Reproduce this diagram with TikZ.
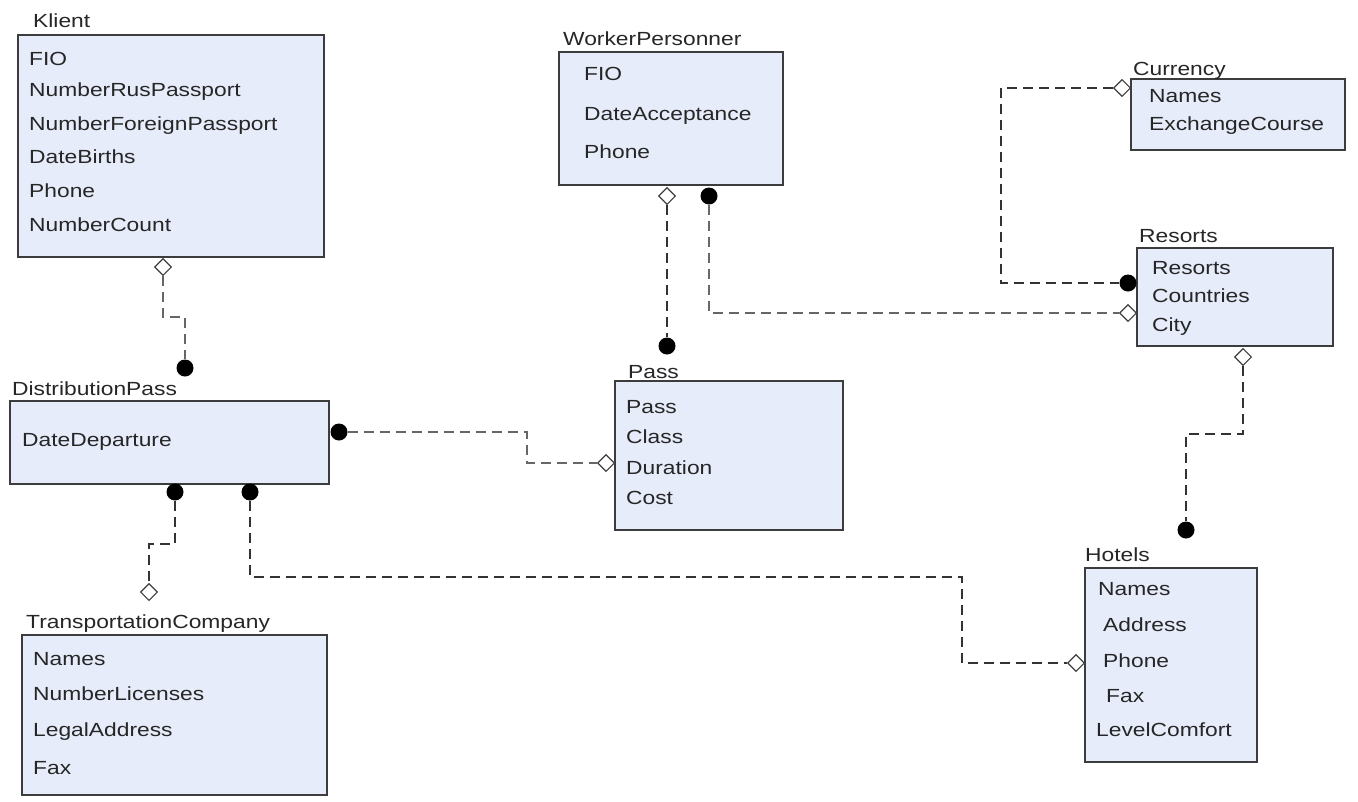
\documentclass[tikz,border=0pt]{standalone}
\usepackage{fontspec}
\setmainfont{Liberation Sans}[FakeStretch=1.2]
\usepackage{xcolor}
\usepackage{tikz}
\usetikzlibrary{positioning,shapes,shapes.geometric}
\definecolor{entfill}{HTML}{E6ECFA}
\definecolor{entline}{HTML}{3C3C3C}
\definecolor{linkgray}{HTML}{666666}
\tikzstyle{conn} = [linkgray, line width=2.2pt, dash pattern=on 10pt off 6pt]

\begin{document}
\begin{tikzpicture}[
    x=1pt, y=-1pt,
    font=\fontsize{19}{22}\selectfont,
    ent/.style={
        draw=entline,
        fill=entfill,
        line width=1.8pt,
        anchor=north west,
        inner sep=0,
        outer sep=0
    },
    ttl/.style={anchor=base west, inner sep=0, text=black!85},
    attr/.style={anchor=west, inner sep=0, text height=14pt,
                 text depth=4pt, text=black!85},
    dia/.style={diamond, draw=black!75, fill=white, line width=1.1pt,
                inner sep=0, minimum width=17pt, minimum height=17pt},
    dot/.style={circle, fill=black, inner sep=0, minimum size=17pt}
]
\useasboundingbox[fill=white] (0,0) rectangle (1358,801);

% entities
\node[ent, minimum width=306pt, minimum height=222pt] (klient) at (18,35) {};
\node[ttl] (klientT) at (33,27) {Klient};
\foreach \t/\x/\y [count=\i] in {FIO/29/60, NumberRusPassport/29/91,
    NumberForeignPassport/29/125, DateBirths/29/158, Phone/29/192,
    NumberCount/29/226}
    \node[attr] (kl-\i) at (\x,\y) {\t};

\node[ent, minimum width=224pt, minimum height=133pt] (worker) at (559,52) {};
\node[ttl] (workerT) at (563,45) {WorkerPersonner};
\foreach \t/\x/\y [count=\i] in {FIO/584/75, DateAcceptance/584/115,
    Phone/584/153}
    \node[attr] (wp-\i) at (\x,\y) {\t};

\node[ent, minimum width=214pt, minimum height=71pt] (currency) at (1131,79) {};
\node[ttl] (currencyT) at (1133,75) {Currency};
\foreach \t/\x/\y [count=\i] in {Names/1149/97, ExchangeCourse/1149/125}
    \node[attr] (cu-\i) at (\x,\y) {\t};

\node[ent, minimum width=196pt, minimum height=98pt] (resorts) at (1137,248) {};
\node[ttl] (resortsT) at (1139,242) {Resorts};
\foreach \t/\x/\y [count=\i] in {Resorts/1152/269, Countries/1152/297,
    City/1152/326}
    \node[attr] (re-\i) at (\x,\y) {\t};

\node[ent, minimum width=319pt, minimum height=83pt] (distr) at (10,401) {};
\node[ttl] (distrT) at (12,395) {DistributionPass};
\node[attr] (dp-1) at (22,441) {DateDeparture};

\node[ent, minimum width=228pt, minimum height=149pt] (pass) at (615,381) {};
\node[ttl] (passT) at (628,378) {Pass};
\foreach \t/\x/\y [count=\i] in {Pass/626/408, Class/626/438,
    Duration/626/469, Cost/626/499}
    \node[attr] (pa-\i) at (\x,\y) {\t};

\node[ent, minimum width=172pt, minimum height=194pt] (hotels) at (1085,568) {};
\node[ttl] (hotelsT) at (1085,561) {Hotels};
\foreach \t/\x/\y [count=\i] in {Names/1098/590, Address/1103/626,
    Phone/1103/662, Fax/1106/697, LevelComfort/1096/731}
    \node[attr] (ho-\i) at (\x,\y) {\t};

\node[ent, minimum width=305pt, minimum height=160pt] (transp) at (22,635) {};
\node[ttl] (transpT) at (26,628) {TransportationCompany};
\foreach \t/\x/\y [count=\i] in {Names/33/660, NumberLicenses/33/695,
    LegalAddress/33/731, Fax/33/769}
    \node[attr] (tc-\i) at (\x,\y) {\t};

% link ends
\node[dia] (klD) at (163,267) {};
\node[dot] (dpK) at (185,368) {};
\node[dia] (wpP) at (667,196) {};
\node[dot] (paW) at (667,346) {};
\node[dot] (wpR) at (709,196) {};
\node[dia] (reW) at (1128,313) {};
\node[dia] (cuR) at (1122,88) {};
\node[dot] (reC) at (1128,283) {};
\node[dia] (reH) at (1243,357) {};
\node[dot] (hoR) at (1186,530) {};
\node[dot] (dpP) at (339,432) {};
\node[dia] (paD) at (606,463) {};
\node[dot] (dpT) at (175,492) {};
\node[dia] (tcD) at (149,592) {};
\node[dot] (dpH) at (250,492) {};
\node[dia] (hoD) at (1076,663) {};

% links
\draw[conn] (klD.south) -- ++(0,41) -| (dpK.north);
\draw[conn, black!80] (wpP.south) -- (paW.north);
\draw[conn] (wpR.south) |- (reW.west);
\draw[conn, black!80] (cuR.west) -- ++(-112,0) |- (reC.west);
\draw[conn, black!80] (reH.south) -- ++(0,68) -| (hoR.north);
\draw[conn] (dpP.east) -- ++(179.5,0) |- (paD.west);
\draw[conn, black!80] (dpT.south) -- ++(0,43) -| (tcD.north);
\draw[conn, black!80] (dpH.south) -- ++(0,76.5) -- ++(712,0) |- (hoD.west);

\end{tikzpicture}
\end{document}
